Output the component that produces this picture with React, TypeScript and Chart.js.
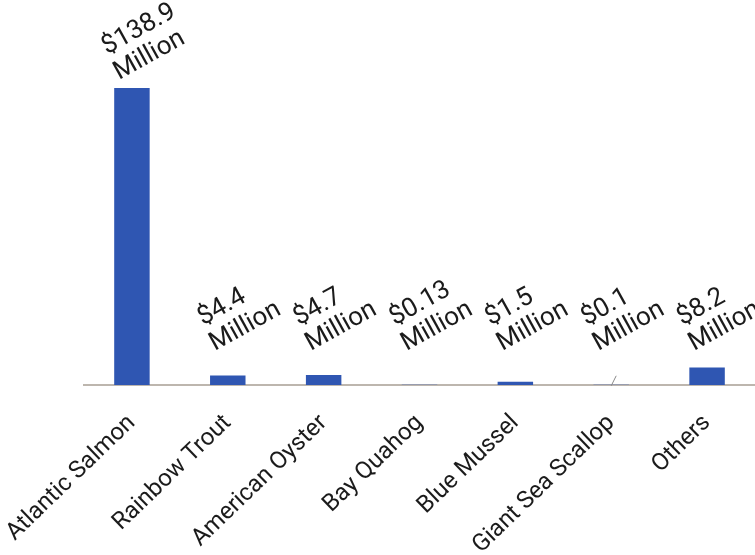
import React, { useEffect, useRef } from "react";
import { Chart, registerables } from "chart.js";

Chart.register(...registerables);

// Aquaculture production value by species, in millions of dollars
const species = [
  "Atlantic Salmon",
  "Rainbow Trout",
  "American Oyster",
  "Bay Quahog",
  "Blue Mussel",
  "Giant Sea Scallop",
  "Others",
];
const valuesMillions = [138.9, 4.4, 4.7, 0.13, 1.5, 0.1, 8.2];
const valueTexts = ["$138.9", "$4.4", "$4.7", "$0.13", "$1.5", "$0.1", "$8.2"];
const unitText = "Million";
// bars whose labels get a short connector line
const leaderLines = [false, false, false, false, false, true, false];

const BAR_BLUE = "#2f56b2";
const AXIS_GREY = "#bdb6ae";
const TEXT = "#1b1b1b";
const FONT = "Roboto, 'Noto Sans', sans-serif";

// Two-line value labels, tilted, sitting just above each bar;
// labels of very short bars are lifted clear of the axis.
const valueLabels = {
  id: "valueLabels",
  afterDatasetsDraw(chart: any) {
    const { ctx } = chart;
    const meta = chart.getDatasetMeta(0);
    const base = chart.scales.y.getPixelForValue(0);
    const angle = (-29 * Math.PI) / 180;
    const lineH = 28;
    meta.data.forEach((bar: any, i: number) => {
      const x0 = bar.x - 13;
      const y0 = Math.min(bar.y - 8, base - 34);
      if (leaderLines[i]) {
        ctx.save();
        ctx.strokeStyle = "#8a8a8a";
        ctx.lineWidth = 1;
        ctx.beginPath();
        ctx.moveTo(bar.x, bar.y + 1);
        ctx.lineTo(bar.x + 5, bar.y - 9);
        ctx.stroke();
        ctx.restore();
      }
      ctx.save();
      ctx.translate(x0, y0);
      ctx.rotate(angle);
      ctx.fillStyle = TEXT;
      ctx.font = `26px ${FONT}`;
      ctx.textAlign = "left";
      ctx.textBaseline = "alphabetic";
      ctx.fillText(valueTexts[i], 2, -lineH);
      ctx.fillText(unitText, 0, 0);
      ctx.restore();
    });
  },
};

export default function App() {
  const canvasRef = useRef<HTMLCanvasElement | null>(null);

  useEffect(() => {
    if (!canvasRef.current) return;
    const chart = new Chart(canvasRef.current, {
      type: "bar",
      data: {
        labels: species,
        datasets: [
          {
            data: valuesMillions,
            backgroundColor: BAR_BLUE,
            borderWidth: 0,
            barPercentage: 0.37,
            categoryPercentage: 1,
          },
        ],
      },
      options: {
        animation: false,
        responsive: true,
        maintainAspectRatio: false,
        layout: { padding: { left: 84, right: 0, top: 88, bottom: 0 } },
        plugins: {
          legend: { display: false },
          tooltip: { enabled: false },
        },
        scales: {
          x: {
            grid: { display: false, drawTicks: false },
            border: { display: true, color: AXIS_GREY, width: 2 },
            ticks: {
              color: TEXT,
              font: { family: FONT, size: 24 },
              minRotation: 44,
              maxRotation: 44,
              autoSkip: false,
              padding: 24,
            },
            afterFit(scale: any) {
              // fixed axis band; rotated labels may overhang the left margin
              scale.height = 170;
              scale.paddingLeft = 0;
              scale.paddingRight = 0;
            },
          },
          y: {
            display: false,
            min: 0,
            max: 138.9,
          },
        },
      },
      plugins: [valueLabels],
    });
    return () => chart.destroy();
  }, []);

  return (
    <div
      style={{
        position: "absolute",
        left: 0,
        top: 0,
        width: 755,
        height: 555,
        background: "#ffffff",
      }}
    >
      <canvas ref={canvasRef} />
    </div>
  );
}
